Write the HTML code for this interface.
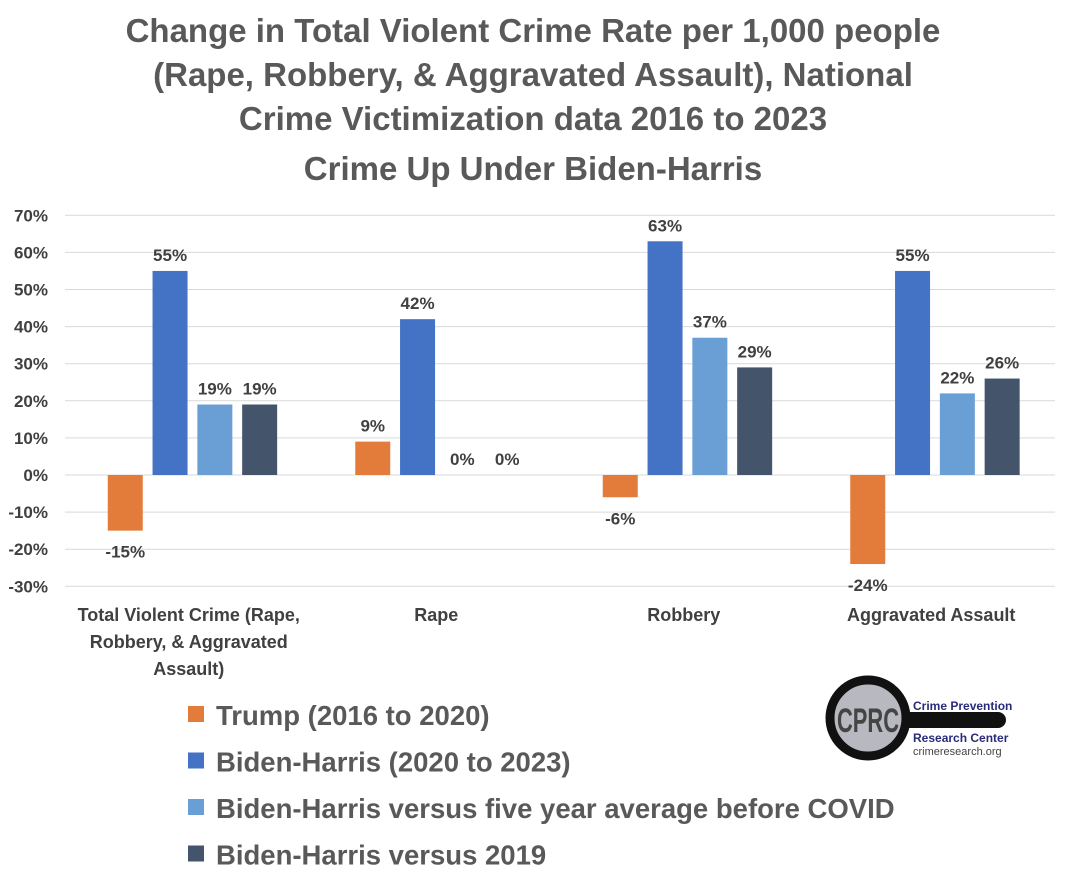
<!DOCTYPE html>
<html><head><meta charset="utf-8"><style>
body{margin:0;background:#fff;width:1068px;height:886px;overflow:hidden;font-family:"Liberation Sans",sans-serif}
</style></head><body>
<svg width="1068" height="886">
<g id="title" font-weight="bold" font-size="33" fill="#595959" text-anchor="middle">
<text x="533" y="42">Change in Total Violent Crime Rate per 1,000 people</text>
<text x="533" y="86">(Rape, Robbery, &amp; Aggravated Assault), National</text>
<text x="533" y="130">Crime Victimization data 2016 to 2023</text>
<text x="533" y="180">Crime Up Under Biden-Harris</text>
</g>
<g id="grid"></g>
<g id="yt"></g>
<g id="bars"></g>
<g id="xl" font-weight="bold" font-size="18" fill="#404040" text-anchor="middle"></g>
<g id="legend"></g>
<g>
<rect x="900" y="712" width="106" height="16" rx="8" fill="#111"/>
<circle cx="868" cy="718" r="38" fill="#b8b8c0" stroke="#111" stroke-width="9"/>
<text x="868" y="732" text-anchor="middle" font-size="34" font-weight="bold" fill="#444" font-family="Liberation Sans Narrow,Liberation Sans,sans-serif" textLength="62" lengthAdjust="spacingAndGlyphs">CPRC</text>
<text x="913" y="710" font-size="12" font-weight="bold" fill="#2a2a7a">Crime Prevention</text>
<text x="913" y="742" font-size="12" font-weight="bold" fill="#2a2a7a">Research Center</text>
<text x="913" y="755" font-size="11" fill="#444">crimeresearch.org</text>
</g>
</svg>
<script>
const categories=["Total Violent Crime (Rape,|Robbery, & Aggravated|Assault)","Rape","Robbery","Aggravated Assault"];
const trump=[-15,9,-6,-24];
const biden=[55,42,63,55];
const fiveYear=[19,0,37,22];
const v2019=[19,0,29,26];
const yTicks=[70,60,50,40,30,20,10,0,-10,-20,-30];
const seriesNames=["Trump (2016 to 2020)","Biden-Harris (2020 to 2023)","Biden-Harris versus five year average before COVID","Biden-Harris versus 2019"];
const colors=["#E37C3A","#4472C4","#6A9FD6","#44546A"];
const NS="http://www.w3.org/2000/svg";
const y0=475,per10=37.1,left=65,right=1055,gw=(right-left)/4;
const Y=v=>y0-v/10*per10;
function mk(t,a,p){const e=document.createElementNS(NS,t);for(const k in a)e.setAttribute(k,a[k]);p.appendChild(e);return e;}
const grid=document.getElementById('grid'),yt=document.getElementById('yt');
yTicks.forEach(t=>{
 const l=mk('line',{x1:left,x2:right,y1:Y(t),y2:Y(t),stroke:'#d9d9d9','stroke-width':1},grid);
 
 
 const tx=mk('text',{x:48,y:Y(t)+6,'text-anchor':'end','font-size':17,'font-weight':'bold',fill:'#404040'},yt);
 tx.textContent=t+'%';
 
 
});
const series=[trump,biden,fiveYear,v2019];
const bars=document.getElementById('bars');
categories.forEach((c,i)=>{
 const cx=left+gw*i+gw/2;
 series.forEach((s,j)=>{
  const v=s[i],x=cx-81+j*44.8,w=35;
  const r=mk('rect',{x:x,y:Math.min(Y(v),y0),width:w,height:Math.abs(Y(v)-y0),fill:colors[j]},bars);
  
  
  const ly=v<0?Y(v)+27:Y(v)-10;
  const t=mk('text',{x:x+w/2,y:ly,'text-anchor':'middle','font-size':17,'font-weight':'bold',fill:'#404040'},bars);
  t.textContent=v+'%';
  
  
 });
 const xl=document.getElementById('xl');
 c.split('|').forEach((ln,k)=>{
  const t=mk('text',{x:cx,y:621+k*27},xl);t.textContent=ln;
  
  
 });
});
const lg=document.getElementById('legend');
seriesNames.forEach((n,j)=>{
 const yy=716+j*46.5;
 const r=mk('rect',{x:188,y:yy-10,width:16,height:16,fill:colors[j]},lg);
 
 
 const t=mk('text',{x:216,y:yy+9,'font-size':27.5,'font-weight':'bold',fill:'#595959'},lg);
 t.textContent=n;
 
 
});
</script>
</body></html>
